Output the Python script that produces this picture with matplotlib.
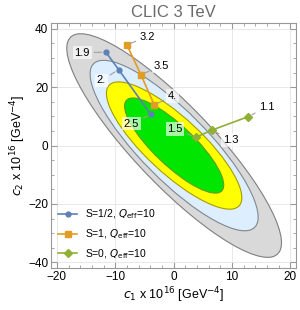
import numpy as np
import matplotlib.pyplot as plt
from matplotlib.patches import Ellipse
from matplotlib.ticker import MultipleLocator

plt.rcParams['font.family'] = ['Liberation Sans', 'DejaVu Sans']

# allowed regions, outer to inner: half-extent in c1, in c2, correlation
center = [0.1, 0.0]
reg_sx = [18.4, 14.4, 11.6, 8.5]
reg_sy = [38.3, 29.2, 21.8, 16.3]
reg_rho = [-0.87, -0.84, -0.82, -0.83]
fill_colors = ['#d9d9d9', '#ddeeff', '#ffff00', '#00e600']
line_colors = ['#7f7f7f', '#7f8790', '#a89a00', '#5f9f1f']

# model points
half_c1 = [-11.6, -9.4, -3.9]
half_c2 = [32.0, 26.0, 10.7]
half_lab = ['1.9', '2.', '2.5']

one_c1 = [-8.0, -5.6, -3.3]
one_c2 = [34.5, 24.3, 13.9]
one_lab = ['3.2', '3.5', '4.']

zero_c1 = [12.8, 6.6, 3.8]
zero_c2 = [9.9, 5.3, 2.8]
zero_lab = ['1.1', '1.3', '1.5']

fig = plt.figure(figsize=(3.0, 3.1), dpi=100)
ax = fig.add_axes([0.17, 0.135, 0.817, 0.791])

for sx, sy, r, fc, ec in zip(reg_sx, reg_sy, reg_rho, fill_colors, line_colors):
    cov = np.array([[sx * sx, r * sx * sy], [r * sx * sy, sy * sy]])
    vals, vecs = np.linalg.eigh(cov)
    ang = np.degrees(np.arctan2(vecs[1, 1], vecs[0, 1]))
    e = Ellipse(center, 2 * np.sqrt(vals[1]), 2 * np.sqrt(vals[0]), angle=ang,
                facecolor=fc, edgecolor=ec, linewidth=0.8, zorder=1)
    ax.add_patch(e)

ax.grid(True, color='#e4e4e4', linewidth=0.6, zorder=0)
ax.set_axisbelow(True)

ax.plot(half_c1, half_c2, '-o', color='#5e81b5', ms=3.5, lw=1.2, zorder=5,
        label=r'S=1/2, $Q_{\rm eff}$=10')
ax.plot(one_c1, one_c2, '-s', color='#e19c24', ms=5, lw=1.2, zorder=5,
        label=r'S=1, $Q_{\rm eff}$=10')
ax.plot(zero_c1, zero_c2, '-D', color='#8fb032', ms=4.5, lw=1.2, zorder=5,
        label=r'S=0, $Q_{\rm eff}$=10')

box = dict(boxstyle='square,pad=0.15', fc='white', ec='none', alpha=0.65)
arrow = dict(arrowstyle='-', color='#a0a0a0', lw=0.8, shrinkA=2, shrinkB=3)

half_off = [(-17, -0.4), (-12.5, -7.7), (-14, -6.8)]
one_off = [(15, 6), (14.5, 6), (13, 6.5)]
zero_off = [(13.5, 7), (13.5, -7.2), (-15, 6)]

for xs, ys, labs, offs in [(half_c1, half_c2, half_lab, half_off),
                           (one_c1, one_c2, one_lab, one_off),
                           (zero_c1, zero_c2, zero_lab, zero_off)]:
    for x, y, t, o in zip(xs, ys, labs, offs):
        ax.annotate(t, (x, y), xytext=o, textcoords='offset points',
                    ha='center', va='center', fontsize=8, bbox=box,
                    arrowprops=arrow, zorder=6)

ax.set_xlim(-21, 21)
ax.set_ylim(-42, 42)
ax.xaxis.set_major_locator(MultipleLocator(10))
ax.xaxis.set_minor_locator(MultipleLocator(2))
ax.yaxis.set_major_locator(MultipleLocator(20))
ax.yaxis.set_minor_locator(MultipleLocator(5))
ax.tick_params(which='both', direction='in', top=True, right=True,
               color='#999999', labelsize=8.5, pad=2)
ax.tick_params(which='major', length=4)
ax.tick_params(which='minor', length=2)
for s in ax.spines.values():
    s.set_color('#999999')

ax.set_xlabel(r'$c_1$ x 10$^{16}$ [GeV$^{-4}$]', fontsize=9, labelpad=2)
ax.set_ylabel(r'$c_2$ x 10$^{16}$ [GeV$^{-4}$]', fontsize=9, labelpad=0)
ax.set_title('CLIC 3 TeV', fontsize=12, color='#6a6a6a', pad=4)

ax.legend(loc='lower left', frameon=False, fontsize=7.5, handlelength=1.8,
          borderaxespad=0.3, labelspacing=0.6)

fig.savefig('out.png', dpi=100)
